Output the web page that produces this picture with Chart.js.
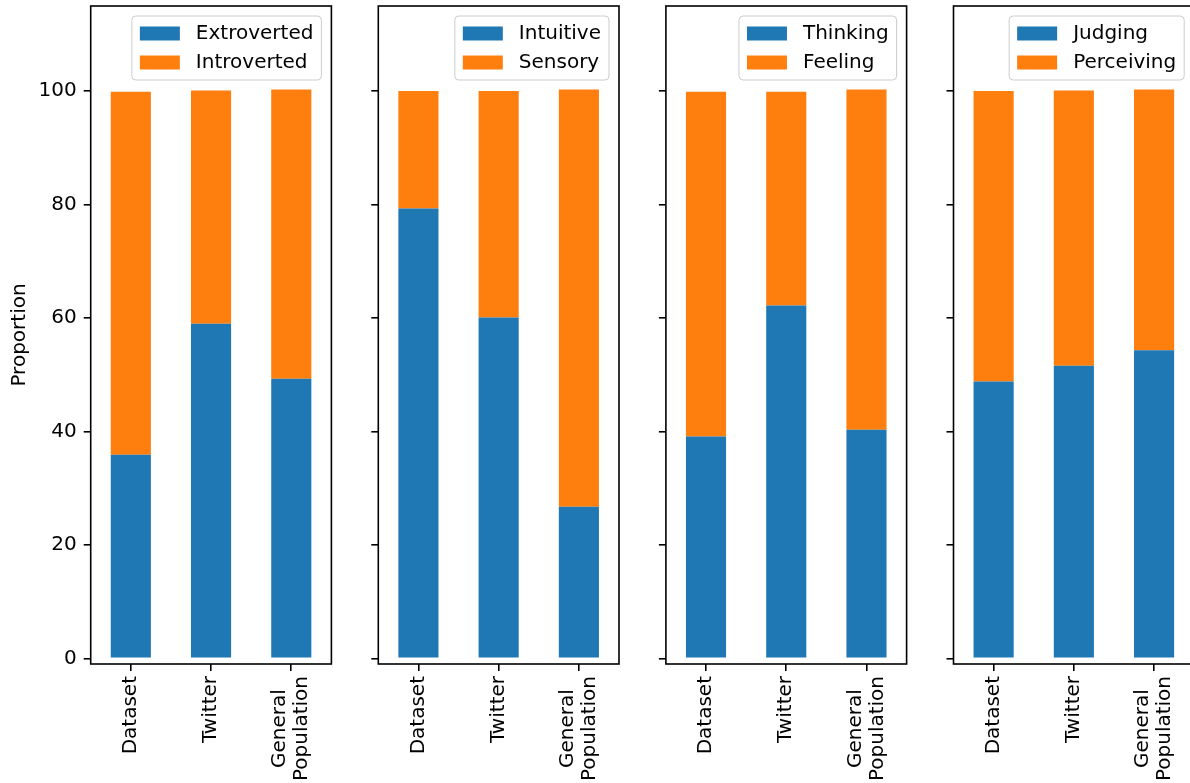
<!DOCTYPE html>
<html>
<head>
<meta charset="utf-8">
<script src="https://cdn.jsdelivr.net/npm/chart.js@4/dist/chart.umd.min.js"></script>
<style>
  html, body { margin: 0; padding: 0; background: #fff; overflow: hidden; }
  body { width: 1190px; height: 783px; position: relative; }
  canvas { position: absolute; top: 0; }
</style>
</head>
<body>
<canvas id="c0"></canvas>
<canvas id="c1"></canvas>
<canvas id="c2"></canvas>
<canvas id="c3"></canvas>
<script>
// Groups compared in every panel
const categories = ['Dataset', 'Twitter', ['General', 'Population']];

// Proportions (%) per MBTI dimension
const extroverted = [35.9, 59.0, 49.3];
const introverted = [64.0, 41.1, 51.0];
const intuitive   = [79.3, 60.1, 26.7];
const sensory     = [20.7, 39.9, 73.6];
const thinking    = [39.1, 62.2, 40.3];
const feeling     = [60.8, 37.7, 60.0];
const judging     = [48.8, 51.6, 54.3];
const perceiving  = [51.2, 48.5, 46.0];

const yTicks = [0, 20, 40, 60, 80, 100];
const yMin = -1, yMax = 115;
const yTitle = 'Proportion';

const panels = [
  { labels: ['Extroverted', 'Introverted'], values: [extroverted, introverted] },
  { labels: ['Intuitive', 'Sensory'],       values: [intuitive, sensory] },
  { labels: ['Thinking', 'Feeling'],        values: [thinking, feeling] },
  { labels: ['Judging', 'Perceiving'],      values: [judging, perceiving] }
];

const COLORS = ['#1f77b4', '#ff7f0e'];
const FS = 20;
const LW = 1.6;
const TICK = 7;

// subplot geometry
const AX_LEFT = [90.7, 378.3, 665.9, 953.5];
const AX_W = 240.7;
const AX_TOP = 6;
const AX_BOTTOM = 664;
const H = 783;

Chart.defaults.font.family = '"DejaVu Sans", sans-serif';
Chart.defaults.font.size = FS;
Chart.defaults.color = '#000';

// full box round each subplot
const frame = {
  id: 'frame',
  afterDatasetsDraw(chart) {
    const { ctx, chartArea: a } = chart;
    ctx.save();
    ctx.strokeStyle = '#000';
    ctx.lineWidth = LW;
    ctx.strokeRect(a.left, a.top, a.right - a.left, a.bottom - a.top);
    ctx.restore();
  }
};

// multi-line category labels: block centred on the tick, lines centred on each other
const centerLines = {
  id: 'centerLines',
  beforeDraw(chart) {
    const s = chart.scales.x;
    const items = s.getLabelItems();
    if (items._centered) return;
    const ctx = chart.ctx;
    items.forEach(it => {
      if (Array.isArray(it.label) && it.label.length > 1) {
        it.textOffset -= (it.label.length - 1) * it.font.lineHeight / 2;
        ctx.save();
        ctx.font = it.font.string;
        const wMax = Math.max(...it.label.map(t => ctx.measureText(t).width));
        ctx.restore();
        const tr = it.options.translation;
        it.options.translation = [tr[0], tr[1] + wMax / 2];
        it.options.textAlign = 'center';
      }
    });
    items._centered = true;
  }
};

// boxed legend in the upper right corner of the plot area
const boxLegend = {
  id: 'boxLegend',
  afterDraw(chart) {
    const { ctx, chartArea: a } = chart;
    const ds = chart.data.datasets;
    ctx.save();
    ctx.font = FS + 'px "DejaVu Sans"';
    const pad = 0.4 * FS, hl = 2 * FS, hh = 0.7 * FS, gap = 0.8 * FS, sp = 0.5 * FS, axPad = 0.5 * FS;
    const rowH = 19;
    const tw = Math.max(...ds.map(d => ctx.measureText(d.label).width));
    const w = pad + hl + gap + tw + pad;
    const h = 2 * pad + ds.length * rowH + (ds.length - 1) * sp;
    const x = a.right - axPad - w, y = a.top + axPad;
    ctx.beginPath();
    ctx.roundRect(x, y, w, h, 0.2 * FS);
    ctx.fillStyle = 'rgba(255,255,255,0.8)';
    ctx.fill();
    ctx.lineWidth = 1;
    ctx.strokeStyle = '#cccccc';
    ctx.stroke();
    ctx.textBaseline = 'middle';
    ctx.textAlign = 'left';
    ds.forEach((d, i) => {
      const cy = y + pad + rowH / 2 + i * (rowH + sp);
      ctx.fillStyle = d.backgroundColor;
      ctx.fillRect(x + pad, cy - hh / 2, hl, hh);
      ctx.fillStyle = '#000';
      ctx.fillText(d.label, x + pad + hl + gap, cy);
    });
    ctx.restore();
  }
};

function noScalePadding(s) {
  s.paddingTop = 0;
  s.paddingBottom = 0;
  s.paddingLeft = 0;
  s.paddingRight = 0;
}

panels.forEach((p, i) => {
  const canvas = document.getElementById('c' + i);
  const cLeft = Math.floor(AX_LEFT[i]) - 90;
  const yW = AX_LEFT[i] - cLeft;
  const cW = Math.ceil(yW + AX_W + 4);
  canvas.width = cW;
  canvas.height = H;
  canvas.style.width = cW + 'px';
  canvas.style.height = H + 'px';
  canvas.style.left = cLeft + 'px';

  new Chart(canvas, {
    type: 'bar',
    data: {
      labels: categories,
      datasets: p.labels.map((lab, k) => ({
        label: lab,
        data: p.values[k],
        backgroundColor: COLORS[k],
        borderWidth: 0,
        barPercentage: 0.5,
        categoryPercentage: 1.0
      }))
    },
    options: {
      responsive: false,
      animation: false,
      events: [],
      layout: { padding: { top: AX_TOP, left: 0, bottom: 0, right: cW - yW - AX_W } },
      plugins: { legend: { display: false }, tooltip: { enabled: false } },
      scales: {
        x: {
          stacked: true,
          border: { display: false },
          grid: { offset: false, drawOnChartArea: false, drawTicks: true, tickLength: TICK, tickColor: '#000', lineWidth: LW },
          ticks: {
            minRotation: 90, maxRotation: 90, autoSkip: false, padding: 5,
            color: '#000', font: { size: FS, lineHeight: 1.1 }
          },
          afterFit(s) { s.height = H - AX_BOTTOM; noScalePadding(s); }
        },
        y: {
          stacked: true,
          min: yMin, max: yMax,
          border: { display: false },
          grid: { drawOnChartArea: false, drawTicks: true, tickLength: TICK, tickColor: '#000', lineWidth: LW },
          ticks: {
            padding: 7, color: '#000',
            callback: v => (i === 0 ? String(v) : '')
          },
          title: {
            display: i === 0, text: yTitle, color: '#000',
            font: { size: FS }, padding: { top: 7.3, bottom: 0 }
          },
          afterBuildTicks(s) { s.ticks = yTicks.map(v => ({ value: v })); },
          afterFit(s) { s.width = yW; noScalePadding(s); }
        }
      }
    },
    plugins: [centerLines, frame, boxLegend]
  });
});
</script>
</body>
</html>
